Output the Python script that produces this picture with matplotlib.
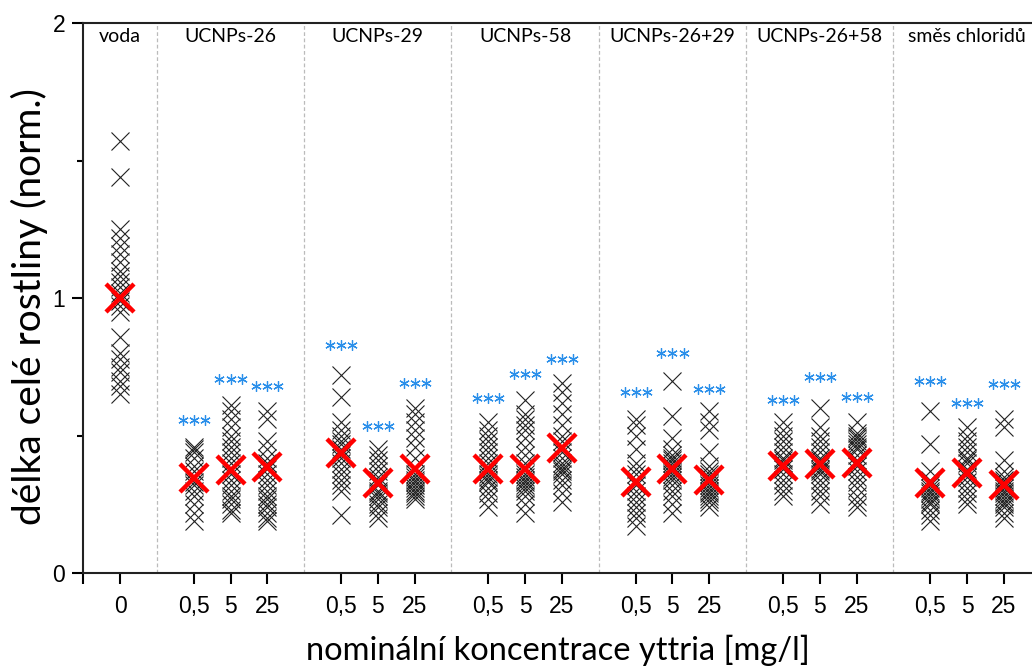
import numpy as np
import matplotlib.pyplot as plt
from matplotlib.ticker import FixedLocator

groups = ['voda', 'UCNPs-26', 'UCNPs-29', 'UCNPs-58',
          'UCNPs-26+29', 'UCNPs-26+58', 'směs chloridů']
conc_labels = ['0,5', '5', '25']

voda = [1.57, 1.44, 1.25, 1.22, 1.19, 1.16, 1.13, 1.10, 1.08, 1.06, 1.04, 1.02,
        0.99, 0.97, 0.95, 0.86, 0.80, 0.78, 0.75, 0.73, 0.70, 0.68, 0.65]

ucnp26 = [
    [0.46, 0.45, 0.44, 0.42, 0.39, 0.37, 0.35, 0.33, 0.32, 0.30, 0.28, 0.25, 0.22, 0.19],
    [0.61, 0.59, 0.56, 0.53, 0.50, 0.48, 0.46, 0.44, 0.42, 0.40, 0.38, 0.36, 0.34, 0.32,
     0.30, 0.28, 0.27, 0.25, 0.23, 0.22],
    [0.59, 0.56, 0.48, 0.45, 0.42, 0.40, 0.38, 0.36, 0.34, 0.32, 0.30, 0.28, 0.27, 0.25,
     0.24, 0.22, 0.20, 0.19],
]
ucnp29 = [
    [0.72, 0.64, 0.55, 0.52, 0.50, 0.48, 0.47, 0.45, 0.44, 0.43, 0.42, 0.40, 0.38, 0.36,
     0.34, 0.32, 0.30, 0.21],
    [0.45, 0.43, 0.41, 0.39, 0.37, 0.35, 0.34, 0.33, 0.32, 0.30, 0.29, 0.28, 0.27, 0.25,
     0.24, 0.22, 0.20],
    [0.60, 0.58, 0.55, 0.52, 0.49, 0.46, 0.42, 0.38, 0.36, 0.35, 0.34, 0.33, 0.32, 0.31,
     0.30, 0.29, 0.28, 0.27],
]
ucnp58 = [
    [0.55, 0.52, 0.50, 0.48, 0.46, 0.44, 0.42, 0.40, 0.38, 0.37, 0.36, 0.35, 0.34, 0.33,
     0.31, 0.29, 0.27, 0.24],
    [0.63, 0.58, 0.56, 0.54, 0.52, 0.49, 0.46, 0.43, 0.40, 0.38, 0.36, 0.35, 0.34, 0.33,
     0.32, 0.31, 0.30, 0.28, 0.25, 0.22],
    [0.69, 0.66, 0.62, 0.58, 0.54, 0.50, 0.48, 0.46, 0.44, 0.42, 0.40, 0.39, 0.38, 0.37,
     0.36, 0.34, 0.32, 0.29, 0.26],
]
ucnp26_29 = [
    [0.56, 0.54, 0.50, 0.45, 0.40, 0.38, 0.36, 0.34, 0.32, 0.30, 0.28, 0.26, 0.24, 0.22,
     0.20, 0.17],
    [0.70, 0.57, 0.49, 0.45, 0.43, 0.42, 0.41, 0.40, 0.39, 0.38, 0.37, 0.36, 0.35, 0.34,
     0.32, 0.30, 0.28, 0.25, 0.22],
    [0.59, 0.55, 0.52, 0.44, 0.39, 0.37, 0.36, 0.35, 0.34, 0.33, 0.32, 0.31, 0.30, 0.29,
     0.28, 0.27, 0.26, 0.24],
]
ucnp26_58 = [
    [0.55, 0.52, 0.50, 0.48, 0.46, 0.44, 0.42, 0.41, 0.40, 0.38, 0.36, 0.34, 0.32, 0.30, 0.28],
    [0.60, 0.53, 0.50, 0.48, 0.46, 0.44, 0.42, 0.41, 0.40, 0.39, 0.38, 0.37, 0.36, 0.34,
     0.32, 0.30, 0.28, 0.25],
    [0.55, 0.51, 0.50, 0.49, 0.48, 0.47, 0.46, 0.45, 0.43, 0.41, 0.39, 0.37, 0.35, 0.33,
     0.31, 0.28, 0.26, 0.24],
]
chloridy = [
    [0.59, 0.47, 0.37, 0.34, 0.33, 0.32, 0.31, 0.30, 0.29, 0.28, 0.27, 0.26, 0.25, 0.23,
     0.21, 0.19],
    [0.53, 0.50, 0.48, 0.46, 0.44, 0.42, 0.41, 0.40, 0.38, 0.37, 0.35, 0.33, 0.31, 0.29,
     0.27, 0.25],
    [0.56, 0.53, 0.41, 0.37, 0.35, 0.34, 0.33, 0.32, 0.31, 0.30, 0.29, 0.28, 0.27, 0.26,
     0.25, 0.24, 0.22, 0.20],
]

treated = [ucnp26, ucnp29, ucnp58, ucnp26_29, ucnp26_58, chloridy]

mean_voda = 1.0
means = [
    [0.345, 0.375, 0.386],
    [0.435, 0.327, 0.38],
    [0.38, 0.38, 0.455],
    [0.33, 0.38, 0.338],
    [0.39, 0.396, 0.40],
    [0.327, 0.364, 0.32],
]
# height of the *** significance marks
stars = [
    [0.556, 0.705, 0.68],
    [0.83, 0.535, 0.69],
    [0.635, 0.725, 0.78],
    [0.66, 0.80, 0.67],
    [0.63, 0.713, 0.64],
    [0.70, 0.62, 0.687],
]

fig = plt.figure(figsize=(10.32, 6.68), dpi=100)
ax = fig.add_axes([83.2 / 1032, 1 - 573 / 668, 1 - 83.2 / 1032, (573 - 23) / 668])

label_font = ['Lato', 'DejaVu Sans']
tick_font = 'Liberation Sans'
blue = '#2a8fea'

black_kw = dict(ls='none', marker='x', ms=13, mew=0.8, color='#222222', zorder=2)
red_kw = dict(ls='none', marker='x', ms=20, mew=3.2, color='#ff0000', zorder=3)

# control
ax.plot([0] * len(voda), voda, **black_kw)
ax.plot([0], [mean_voda], **red_kw)

tick_pos = [0]
tick_lab = ['0']
centers = [0]
for g, data in enumerate(treated):
    base = 4 * g + 2
    centers.append(base + 1)
    for j, vals in enumerate(data):
        x = base + j
        tick_pos.append(x)
        tick_lab.append(conc_labels[j])
        ax.plot([x] * len(vals), vals, **black_kw)
        ax.plot([x], [means[g][j]], **red_kw)
        sy = stars[g][j]
        ax.plot([x - 0.3, x, x + 0.3], [sy] * 3, ls='none', marker=(6, 2, 0),
                ms=7.5, mew=0.9, color=blue, zorder=3)

# group separators
for s in range(len(groups) - 1):
    ax.axvline(4 * s + 1, color='#bbbbbb', lw=0.9, ls=(0, (3, 2)), zorder=1)

for c, name in zip(centers, groups):
    ax.text(c, 1.95, name, ha='center', va='center', fontsize=14, family=label_font)

ax.set_xlim(-1, (1032 - 120) / 36.83)
ax.set_ylim(0, 2)
ax.set_xticks(tick_pos)
ax.set_xticklabels(tick_lab)
ax.xaxis.set_minor_locator(FixedLocator([-1]))
ax.set_yticks([0, 1, 2])
ax.set_yticklabels(['0', '1', '2'])
ax.yaxis.set_minor_locator(FixedLocator([0.5, 1.5]))
for lab in ax.get_xticklabels() + ax.get_yticklabels():
    lab.set_fontfamily(tick_font)
    lab.set_fontsize(16.5)

ax.tick_params(axis='x', which='major', direction='out', length=8, width=1.5, pad=8)
ax.tick_params(axis='y', which='major', direction='out', length=8, width=1.5, pad=5)
ax.tick_params(axis='x', which='minor', direction='out', length=8, width=1.5)
ax.tick_params(axis='y', which='minor', direction='out', length=4.5, width=1.5)

for side in ['left', 'bottom', 'top']:
    ax.spines[side].set_linewidth(1.5)
    ax.spines[side].set_color('#222222')
ax.spines['right'].set_visible(False)

ax.set_ylabel('délka celé rostliny (norm.)', family=label_font, fontsize=28)
ax.yaxis.set_label_coords(-0.037, 0.484)
ax.set_xlabel('nominální koncentrace yttria [mg/l]', family=label_font, fontsize=23.5,
              labelpad=12)

fig.savefig('out.png', dpi=100)
